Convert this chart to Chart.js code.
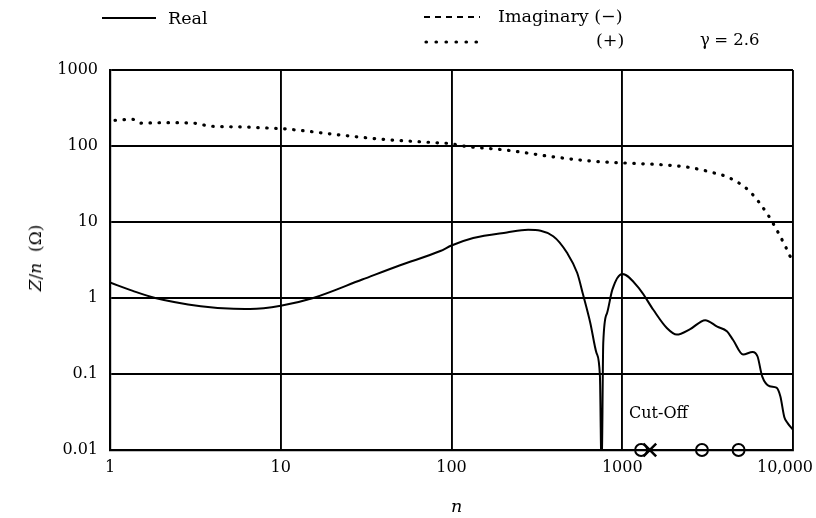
<!DOCTYPE html>
<html><head><meta charset="utf-8">
<script src="https://cdn.jsdelivr.net/npm/chart.js@4.4.1/dist/chart.umd.min.js"></script>
<style>
html,body{margin:0;padding:0;background:#fff;}
#wrap{position:relative;width:816px;height:518px;font-family:"DejaVu Serif",serif;color:#000;overflow:hidden;}
#c{position:absolute;left:0;top:0;}
.t{position:absolute;font-size:17.5px;white-space:nowrap;line-height:18px;}
</style></head><body>
<div id="wrap">
<canvas id="c" width="816" height="518"></canvas>
<div class="t" style="left:168px;top:9px;">Real</div>
<div class="t" style="left:498px;top:7px;">Imaginary (−)</div>
<div class="t" style="left:596px;top:31px;">(+)</div>
<div class="t" style="left:700px;top:31px;font-size:16.5px;">γ<span style="letter-spacing:-1px"> </span>= 2.6</div>
<div class="t" style="left:629px;top:404px;font-size:16px;">Cut-Off</div>
<div class="t" style="left:451px;top:497px;"><i>n</i></div>
<div class="t" style="left:35px;top:258px;font-size:17px;transform:translate(-50%,-50%) rotate(-90deg);"><i>Z</i>/<i>n</i>&nbsp;&nbsp;(Ω)</div>
</div>
<script>
// Real part
const realN = [1, 1.36, 1.84, 3.4, 5.3, 6.6, 10, 15.5, 30, 50, 86, 100, 134, 211, 281, 394, 476, 545, 590, 650, 706, 740, 757, 774, 815, 875, 1000, 1270, 1520, 1830, 2085, 2500, 3060, 3600, 4100, 4460, 5100, 5800, 6200, 6600, 7300, 8000, 8430, 8900, 9300, 10000];
const realZ = [1.6, 1.24, 1.0, 0.78, 0.72, 0.717, 0.79, 1.0, 1.75, 2.7, 4.15, 4.9, 6.15, 7.3, 7.9, 6.5, 3.9, 2.13, 1.1, 0.47, 0.19, 0.094, 0.004, 0.256, 0.635, 1.29, 2.07, 1.29, 0.70, 0.40, 0.33, 0.39, 0.51, 0.42, 0.365, 0.28, 0.18, 0.195, 0.17, 0.093, 0.069, 0.066, 0.051, 0.027, 0.0226, 0.0185];
// Imaginary part
const imagN = [1.07, 1.36, 1.5, 2.16, 3.07, 3.85, 6, 9, 10.8, 22, 40, 78, 100, 117, 211, 394, 647, 1000, 1830, 2500, 3400, 4300, 5600, 7100, 8100, 9100, 9570, 10000];
const imagZ = [218, 224, 200, 203, 200, 183, 178, 171, 167, 140, 122, 111, 107, 100, 88, 72, 63.5, 60, 56, 52, 44.6, 37.6, 25, 12.6, 7.6, 4.6, 3.6, 3.2];
// Cut-off markers
const cutCircleN = [1290, 2930, 4800];
const cutCrossN = [1450];
const cutLevel = 0.01;
// Ticks
const xTicks = [1, 10, 100, 1000, 10000];
const xTickLabels = ['1', '10', '100', '1000', '10,000'];
const yTicks = [0.01, 0.1, 1, 10, 100, 1000];
const yTickLabels = ['0.01', '0.1', '1', '10', '100', '1000'];

const pts = (xs, ys) => xs.map((x, i) => ({x, y: ys[i]}));

const legendPlugin = {
  id: 'legendSamples',
  afterDraw(chart) {
    const ctx = chart.ctx;
    ctx.save();
    ctx.strokeStyle = '#000';
    ctx.lineWidth = 1.8;
    ctx.beginPath(); ctx.moveTo(102, 18); ctx.lineTo(156, 18); ctx.stroke();
    ctx.setLineDash([6, 5]);
    ctx.beginPath(); ctx.moveTo(424, 17); ctx.lineTo(480, 17); ctx.stroke();
    ctx.setLineDash([0.5, 9.5]);
    ctx.lineCap = 'round';
    ctx.lineWidth = 3.2;
    ctx.beginPath(); ctx.moveTo(426, 42); ctx.lineTo(480, 42); ctx.stroke();
    ctx.restore();
  }
};

const tickFont = {family: '"DejaVu Serif", serif', size: 16};

new Chart(document.getElementById('c'), {
  type: 'scatter',
  data: {
    datasets: [
      {data: pts(realN, realZ), showLine: true, borderColor: '#000', borderWidth: 2, pointRadius: 0, cubicInterpolationMode: 'monotone'},
      {data: pts(imagN, imagZ), showLine: true, borderColor: '#000', borderWidth: 3.2, borderDash: [0.5, 8.5], borderCapStyle: 'round', pointRadius: 0, cubicInterpolationMode: 'monotone'},
      {data: cutCircleN.map(x => ({x, y: cutLevel})), showLine: false, pointStyle: 'circle', pointRadius: 6, pointBorderWidth: 2, pointBorderColor: '#000', pointBackgroundColor: 'rgba(255,255,255,0)', clip: false},
      {data: cutCrossN.map(x => ({x, y: cutLevel})), showLine: false, pointStyle: 'crossRot', pointRadius: 9, pointBorderWidth: 2.5, pointBorderColor: '#000', clip: false}
    ]
  },
  options: {
    responsive: false,
    animation: false,
    devicePixelRatio: 1,
    layout: {padding: {top: 70, right: 23, left: 0, bottom: 0}},
    plugins: {legend: {display: false}, tooltip: {enabled: false}},
    scales: {
      x: {
        type: 'logarithmic', min: 1, max: 10000,
        afterBuildTicks: s => { s.ticks = xTicks.map(v => ({value: v})); },
        afterFit: s => { s.height = 68; s.paddingLeft = 0; s.paddingRight = 0; },
        ticks: {color: '#000', font: tickFont, padding: 8, maxRotation: 0, autoSkip: false,
          callback: (v) => {
            const i = xTicks.indexOf(v);
            if (i < 0) return '';
            return i === xTicks.length - 1 ? xTickLabels[i] + '\u2002\u2002' : xTickLabels[i];
          }},
        grid: {color: '#000', lineWidth: 1.9, drawTicks: false},
        border: {display: true, color: '#000', width: 2.2}
      },
      y: {
        type: 'logarithmic', min: 0.01, max: 1000,
        afterBuildTicks: s => { s.ticks = yTicks.map(v => ({value: v})); },
        afterFit: s => { s.width = 110; s.paddingTop = 0; s.paddingBottom = 0; },
        ticks: {color: '#000', font: tickFont, padding: 12, autoSkip: false,
          callback: (v) => { const i = yTicks.indexOf(v); return i >= 0 ? yTickLabels[i] : ''; }},
        grid: {color: '#000', lineWidth: 1.9, drawTicks: false},
        border: {display: true, color: '#000', width: 2.2}
      }
    }
  },
  plugins: [legendPlugin]
});
</script>
</body></html>
